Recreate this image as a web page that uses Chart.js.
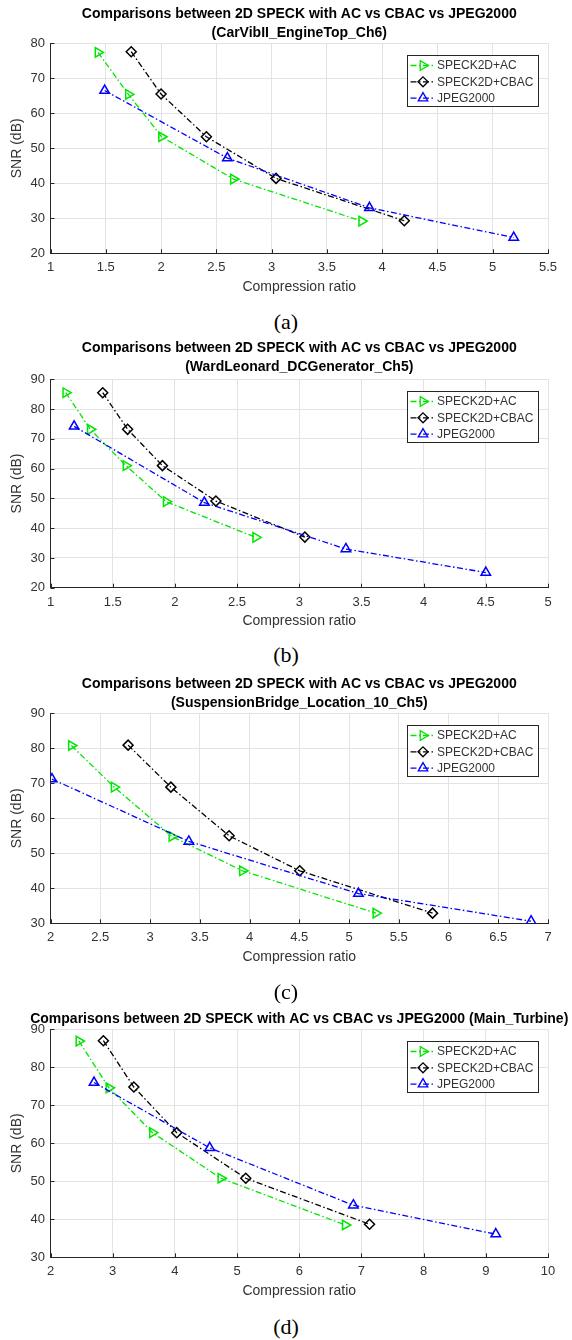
<!DOCTYPE html>
<html>
<head>
<meta charset="utf-8">
<script src="https://cdn.jsdelivr.net/npm/chart.js@4.4.0/dist/chart.umd.min.js"></script>
<style>
  body { margin: 0; background: #fff; width: 572px; height: 1340px; position: relative; overflow: hidden; }
  canvas { position: absolute; left: 0; }
  .cap { position: absolute; left: 0; width: 572px; text-align: center; color: #000;
         font-family: "Liberation Serif", "Times New Roman", serif; font-size: 22px; line-height: 24px; }
</style>
</head>
<body>
<canvas id="chartA"></canvas>
<canvas id="chartB"></canvas>
<canvas id="chartC"></canvas>
<canvas id="chartD"></canvas>
<div class="cap" style="top:310px">(a)</div>
<div class="cap" style="top:643px">(b)</div>
<div class="cap" style="top:980px">(c)</div>
<div class="cap" style="top:1315px">(d)</div>

<script>
// ---- data ----
// (a) CarVibII_EngineTop_Ch6
const crAC_a   = [1.43, 1.705, 2.005, 2.655, 3.815];
const snrAC_a  = [77.4, 65.4, 53.3, 41.2, 29.2];
const crCB_a   = [1.73, 2.0, 2.41, 3.04, 4.2];
const snrCB_a  = [77.6, 65.5, 53.3, 41.4, 29.3];
const crJP_a   = [1.49, 2.6, 3.885, 5.19];
const snrJP_a  = [66.5, 47.2, 33.0, 24.5];
const xTicks_a = [1, 1.5, 2, 2.5, 3, 3.5, 4, 4.5, 5, 5.5];
const yTicks_a = [20, 30, 40, 50, 60, 70, 80];

// (b) WardLeonard_DCGenerator_Ch5
const crAC_b   = [1.123, 1.32, 1.607, 1.93, 2.65];
const snrAC_b  = [85.5, 73.2, 61.0, 48.9, 36.9];
const crCB_b   = [1.42, 1.62, 1.9, 2.33, 3.045];
const snrCB_b  = [85.5, 73.2, 61.0, 49.1, 37.0];
const crJP_b   = [1.19, 2.237, 3.375, 4.5];
const snrJP_b  = [74.2, 48.6, 33.0, 25.1];
const xTicks_b = [1, 1.5, 2, 2.5, 3, 3.5, 4, 4.5, 5];
const yTicks_b = [20, 30, 40, 50, 60, 70, 80, 90];

// (c) SuspensionBridge_Location_10_Ch5
const crAC_c   = [2.21, 2.64, 3.22, 3.93, 5.27];
const snrAC_c  = [80.8, 68.9, 54.8, 45.0, 32.9];
const crCB_c   = [2.78, 3.21, 3.795, 4.505, 5.84];
const snrCB_c  = [80.9, 68.9, 55.0, 45.0, 32.9];
const crJP_c   = [2.015, 3.39, 5.095, 6.83];
const snrJP_c  = [71.2, 53.4, 38.5, 30.6];
const xTicks_c = [2, 2.5, 3, 3.5, 4, 4.5, 5, 5.5, 6, 6.5, 7];
const yTicks_c = [30, 40, 50, 60, 70, 80, 90];

// (d) Main_Turbine
const crAC_d   = [2.457, 2.94, 3.64, 4.74, 6.74];
const snrAC_d  = [86.9, 74.6, 62.8, 50.8, 38.5];
const crCB_d   = [2.85, 3.34, 4.03, 5.14, 7.13];
const snrCB_d  = [87.0, 74.8, 62.8, 50.8, 38.7];
const crJP_d   = [2.7, 4.56, 6.87, 9.16];
const snrJP_d  = [76.0, 58.8, 43.7, 36.1];
const xTicks_d = [2, 3, 4, 5, 6, 7, 8, 9, 10];
const yTicks_d = [30, 40, 50, 60, 70, 80, 90];

const seriesNames = ['SPECK2D+AC', 'SPECK2D+CBAC', 'JPEG2000'];
const mainTitle = 'Comparisons between 2D SPECK with AC vs CBAC vs JPEG2000';

// ---- styling ----
const FONT = '"Liberation Sans", Arial, Helvetica, sans-serif';
const INK = '#262626';
const TXT = '#333333';
const DASHDOT = [6, 2.5, 1.5, 2.5];

// title centred over the axes (like matlab), not over the whole canvas
const plotTitle = {
  id: 'plotTitle',
  afterDraw(chart, args, opts) {
    const { ctx, chartArea } = chart;
    ctx.save();
    ctx.font = 'bold 14px ' + FONT;
    ctx.fillStyle = '#000';
    ctx.textAlign = 'center';
    ctx.textBaseline = 'middle';
    const cx = (chartArea.left + chartArea.right) / 2;
    opts.lines.forEach((t, i) => ctx.fillText(t, cx, opts.y + i * 19));
    ctx.restore();
  }
};

// matlab-ish legend box in the upper right of the axes
const boxLegend = {
  id: 'boxLegend',
  afterDraw(chart) {
    const { ctx, chartArea } = chart;
    const x0 = Math.round(chartArea.right - 141) + 0.5;
    const y0 = Math.round(chartArea.top + 12) + 0.5;
    const w = 131, h = 51;
    ctx.save();
    ctx.fillStyle = '#fff';
    ctx.fillRect(x0, y0, w, h);
    ctx.strokeStyle = INK;
    ctx.lineWidth = 1;
    ctx.setLineDash([]);
    ctx.strokeRect(x0, y0, w, h);
    ctx.font = '12px ' + FONT;
    ctx.textBaseline = 'middle';
    chart.data.datasets.forEach((ds, i) => {
      const y = y0 + 10 + i * 16.3;
      ctx.strokeStyle = ds.borderColor;
      ctx.lineWidth = ds.borderWidth;
      ctx.setLineDash(ds.borderDash);
      ctx.beginPath();
      ctx.moveTo(x0 + 3, y);
      ctx.lineTo(x0 + 27, y);
      ctx.stroke();
      ctx.setLineDash([]);
      ctx.fillStyle = 'rgba(0,0,0,0)';
      Chart.helpers.drawPoint(ctx, {
        pointStyle: ds.pointStyle, rotation: ds.pointRotation || 0,
        radius: ds.pointRadius, borderWidth: ds.pointBorderWidth
      }, x0 + 15.5, y);
      ctx.fillStyle = TXT;
      ctx.fillText(ds.label, x0 + 29.5, y + 0.5);
    });
    ctx.restore();
  }
};

// small tick marks pointing into the axes
const innerTicks = {
  id: 'innerTicks',
  beforeDatasetsDraw(chart) {
    const { ctx, chartArea, scales } = chart;
    ctx.save();
    ctx.strokeStyle = INK;
    ctx.lineWidth = 1;
    ctx.beginPath();
    scales.x.ticks.forEach(t => {
      const px = Math.round(scales.x.getPixelForValue(t.value)) + 0.5;
      ctx.moveTo(px, chartArea.bottom);
      ctx.lineTo(px, chartArea.bottom - 4);
    });
    scales.y.ticks.forEach(t => {
      const py = Math.round(scales.y.getPixelForValue(t.value)) + 0.5;
      ctx.moveTo(chartArea.left, py);
      ctx.lineTo(chartArea.left + 4, py);
    });
    ctx.stroke();
    ctx.restore();
  }
};

function pts(xs, ys) {
  return xs.map((x, i) => ({ x: x, y: ys[i] }));
}

function series(label, data, color, style, rot, r, order) {
  return {
    label: label, data: data, showLine: true, order: order,
    borderColor: color, borderWidth: 1.3, borderDash: DASHDOT,
    pointStyle: style, pointRotation: rot, pointRadius: r,
    pointBorderColor: color, pointBackgroundColor: 'rgba(0,0,0,0)',
    pointBorderWidth: 1.5
  };
}

function buildChart(o) {
  const cv = document.getElementById(o.id);
  cv.width = 572;
  cv.height = o.height;
  cv.style.top = o.top + 'px';
  const xAxisH = o.height - (o.plotBottom - o.top);
  const xTitlePad = xAxisH - 33.8 - 8.4;

  return new Chart(cv, {
    type: 'scatter',
    data: {
      datasets: [
        series(seriesNames[0], o.ac, 'rgb(0,230,0)', 'triangle', 90, 5.5, 3),
        series(seriesNames[1], o.cb, '#000000', 'rectRot', 0, 5, 2),
        series(seriesNames[2], o.jp, '#0000ff', 'triangle', 0, 5.5, 1)
      ]
    },
    options: {
      responsive: false,
      animation: false,
      layout: { padding: { left: 0, right: 24, top: o.plotTop - o.top, bottom: 0 } },
      plugins: {
        legend: { display: false },
        tooltip: { enabled: false },
        title: { display: false },
        plotTitle: { lines: o.title, y: o.titleY - o.top + 1 }
      },
      scales: {
        x: {
          type: 'linear', min: o.xTicks[0], max: o.xTicks[o.xTicks.length - 1],
          afterBuildTicks: s => { s.ticks = o.xTicks.map(v => ({ value: v })); },
          afterFit: s => { s.height = xAxisH; },
          grid: { color: '#e3e3e3', drawTicks: false },
          border: { color: INK, width: 1 },
          ticks: { color: TXT, font: { family: FONT, size: 13 }, padding: 6.5,
                   maxRotation: 0, autoSkip: false, callback: v => String(v) },
          title: { display: true, text: 'Compression ratio', color: TXT,
                   font: { family: FONT, size: 14 }, padding: { top: 0, bottom: xTitlePad } }
        },
        y: {
          type: 'linear', min: o.yTicks[0], max: o.yTicks[o.yTicks.length - 1],
          afterBuildTicks: s => { s.ticks = o.yTicks.map(v => ({ value: v })); },
          afterFit: s => { s.width = 50.5; },
          grid: { color: '#e3e3e3', drawTicks: false },
          border: { color: INK, width: 1 },
          ticks: { color: TXT, font: { family: FONT, size: 13 }, padding: 5.5,
                   autoSkip: false, callback: v => String(v) },
          title: { display: true, text: 'SNR (dB)', color: TXT,
                   font: { family: FONT, size: 14 }, padding: { top: 9.1, bottom: 0 } }
        }
      }
    },
    plugins: [innerTicks, boxLegend, plotTitle]
  });
}

buildChart({
  id: 'chartA', top: 1, height: 295, plotTop: 43.3, plotBottom: 253.3, titleY: 13.3,
  title: [mainTitle, '(CarVibII_EngineTop_Ch6)'],
  xTicks: xTicks_a, yTicks: yTicks_a,
  ac: pts(crAC_a, snrAC_a), cb: pts(crCB_a, snrCB_a), jp: pts(crJP_a, snrJP_a)
});
buildChart({
  id: 'chartB', top: 337, height: 293, plotTop: 379.3, plotBottom: 587.7, titleY: 347.3,
  title: [mainTitle, '(WardLeonard_DCGenerator_Ch5)'],
  xTicks: xTicks_b, yTicks: yTicks_b,
  ac: pts(crAC_b, snrAC_b), cb: pts(crCB_b, snrCB_b), jp: pts(crJP_b, snrJP_b)
});
buildChart({
  id: 'chartC', top: 671, height: 295, plotTop: 713.3, plotBottom: 923.3, titleY: 682.7,
  title: [mainTitle, '(SuspensionBridge_Location_10_Ch5)'],
  xTicks: xTicks_c, yTicks: yTicks_c,
  ac: pts(crAC_c, snrAC_c), cb: pts(crCB_c, snrCB_c), jp: pts(crJP_c, snrJP_c)
});
buildChart({
  id: 'chartD', top: 987, height: 313, plotTop: 1029.3, plotBottom: 1257.3, titleY: 1017.7,
  title: [mainTitle + ' (Main_Turbine)'],
  xTicks: xTicks_d, yTicks: yTicks_d,
  ac: pts(crAC_d, snrAC_d), cb: pts(crCB_d, snrCB_d), jp: pts(crJP_d, snrJP_d)
});
</script>
</body>
</html>
